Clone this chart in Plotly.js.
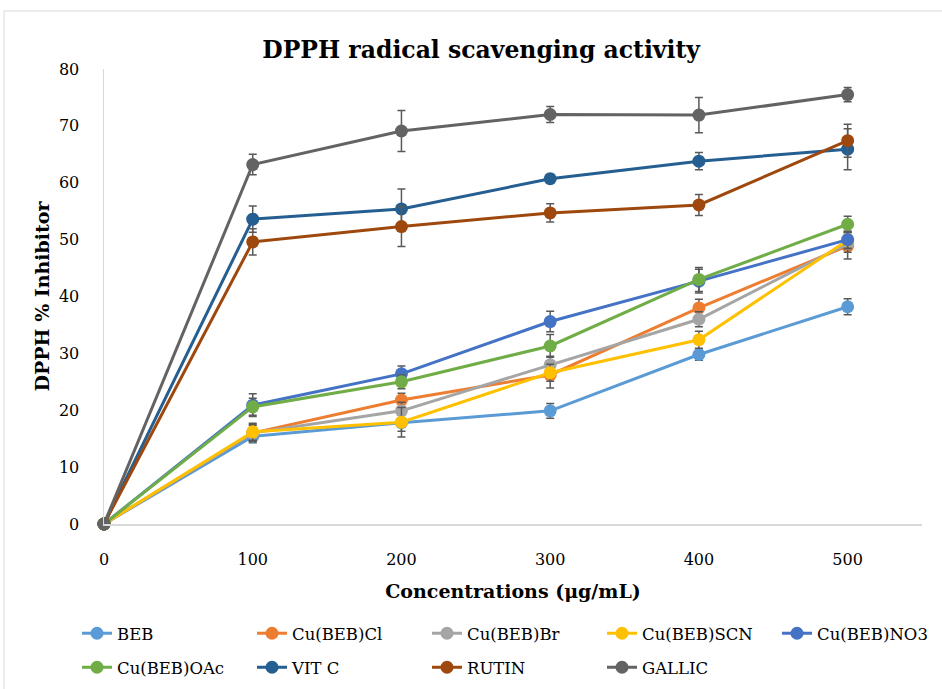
<!DOCTYPE html>
<html>
<head>
<meta charset="utf-8">
<script src="https://cdn.plot.ly/plotly-3.0.1.min.js"></script>
<style>html,body{margin:0;padding:0;background:#fff;}#chart{width:942px;height:689px;}</style>
</head>
<body>
<div id="chart"></div>
<script>
const concentrations = [0, 100, 200, 300, 400, 500];
const seriesNames = ["BEB", "Cu(BEB)Cl", "Cu(BEB)Br", "Cu(BEB)SCN", "Cu(BEB)NO3", "Cu(BEB)OAc", "VIT C", "RUTIN", "GALLIC"];
const seriesColors = ["#5B9BD5", "#ED7D31", "#A5A5A5", "#FFC000", "#4472C4", "#70AD47", "#255E91", "#9E480E", "#636363"];

const BEB      = [0, 15.4, 17.8, 19.9, 29.8, 38.2];
const CuCl     = [0, 16.0, 21.8, 26.2, 38.0, 48.9];
const CuBr     = [0, 16.0, 19.9, 28.0, 36.0, 49.3];
const CuSCN    = [0, 16.2, 17.9, 26.6, 32.4, 49.9];
const CuNO3    = [0, 20.9, 26.4, 35.6, 42.7, 50.0];
const CuOAc    = [0, 20.6, 25.0, 31.3, 43.0, 52.7];
const VITC     = [0, 53.6, 55.4, 60.7, 63.8, 65.9];
const RUTIN    = [0, 49.6, 52.3, 54.7, 56.1, 67.4];
const GALLIC   = [0, 63.2, 69.1, 72.0, 71.9, 75.5];

const errBEB    = [0, 1.1, 1.5, 1.3, 1.0, 1.4];
const errCuCl   = [0, 1.5, 1.2, 2.3, 1.5, 2.3];
const errCuBr   = [0, 1.3, 1.5, 1.5, 1.3, 1.5];
const errCuSCN  = [0, 1.5, 2.6, 1.5, 1.5, 1.5];
const errCuNO3  = [0, 2.0, 1.4, 1.8, 2.1, 1.5];
const errCuOAc  = [0, 1.5, 1.2, 2.0, 2.1, 1.4];
const errVITC   = [0, 2.3, 3.5, 0.8, 1.5, 3.6];
const errRUTIN  = [0, 2.3, 3.5, 1.6, 1.85, 2.9];
const errGALLIC = [0, 1.8, 3.6, 1.4, 3.1, 1.25];

const values = [BEB, CuCl, CuBr, CuSCN, CuNO3, CuOAc, VITC, RUTIN, GALLIC];
const errors = [errBEB, errCuCl, errCuBr, errCuSCN, errCuNO3, errCuOAc, errVITC, errRUTIN, errGALLIC];

const FONT = "DejaVu Serif";

const traces = seriesNames.map((name, i) => ({
  type: "scatter",
  mode: "lines+markers",
  name: name,
  legend: i < 5 ? "legend" : "legend2",
  x: concentrations,
  y: values[i],
  cliponaxis: false,
  line: {color: seriesColors[i], width: 3},
  marker: {color: seriesColors[i], size: 13},
  error_y: {type: "data", array: errors[i], visible: true, color: "#595959", thickness: 1.5, width: 4}
}));

const legendBase = {
  orientation: "h",
  x: -0.033, xanchor: "left",
  yanchor: "top",
  entrywidth: 130, entrywidthmode: "pixels",
  font: {family: FONT, size: 16.5, color: "#000"},
  tracegroupgap: 0,
  bgcolor: "rgba(0,0,0,0)"
};

const layout = {
  width: 942, height: 689,
  margin: {l: 104, r: 20, t: 69, b: 165, autoexpand: false},
  paper_bgcolor: "#fff", plot_bgcolor: "#fff",
  font: {family: FONT, color: "#000", size: 16},
  title: {
    text: "<b>DPPH radical scavenging activity</b>",
    font: {family: FONT, size: 23.5, color: "#000"},
    xref: "paper", x: 0.461, xanchor: "center",
    yref: "container", y: 1 - 50/689, yanchor: "middle"
  },
  xaxis: {
    range: [0, 550],
    tickvals: concentrations,
    ticktext: concentrations.map(String),
    showgrid: false, zeroline: false, automargin: false,
    showline: true, linecolor: "#D9D9D9", linewidth: 1.5,
    ticks: "outside", ticklen: 20, tickcolor: "rgba(0,0,0,0)",
    tickfont: {family: FONT, size: 16, color: "#000"},
    title: {text: "<b>Concentrations (μg/mL)</b>", font: {family: FONT, size: 19, color: "#000"}, standoff: 17}
  },
  yaxis: {
    range: [0, 80],
    dtick: 10, tick0: 0,
    showgrid: false, zeroline: false, automargin: false,
    showline: true, linecolor: "#D9D9D9", linewidth: 1.5,
    ticks: "outside", ticklen: 20, tickcolor: "rgba(0,0,0,0)",
    tickfont: {family: FONT, size: 16, color: "#000"},
    title: {text: "<b>DPPH % Inhibitor</b>", font: {family: FONT, size: 19, color: "#000"}, standoff: 4}
  },
  legend: Object.assign({}, legendBase, {y: -0.2022}),
  legend2: Object.assign({}, legendBase, {y: -0.277}),
  shapes: [{
    type: "rect", xref: "paper", yref: "paper",
    x0: -0.1222, x1: 1.06, y0: -0.42, y1: 1.1275,
    line: {color: "#D9D9D9", width: 1}, fillcolor: "rgba(0,0,0,0)", layer: "below"
  }],
  showlegend: true
};

Plotly.newPlot("chart", traces, layout, {displayModeBar: false, staticPlot: true});
</script>
</body>
</html>
